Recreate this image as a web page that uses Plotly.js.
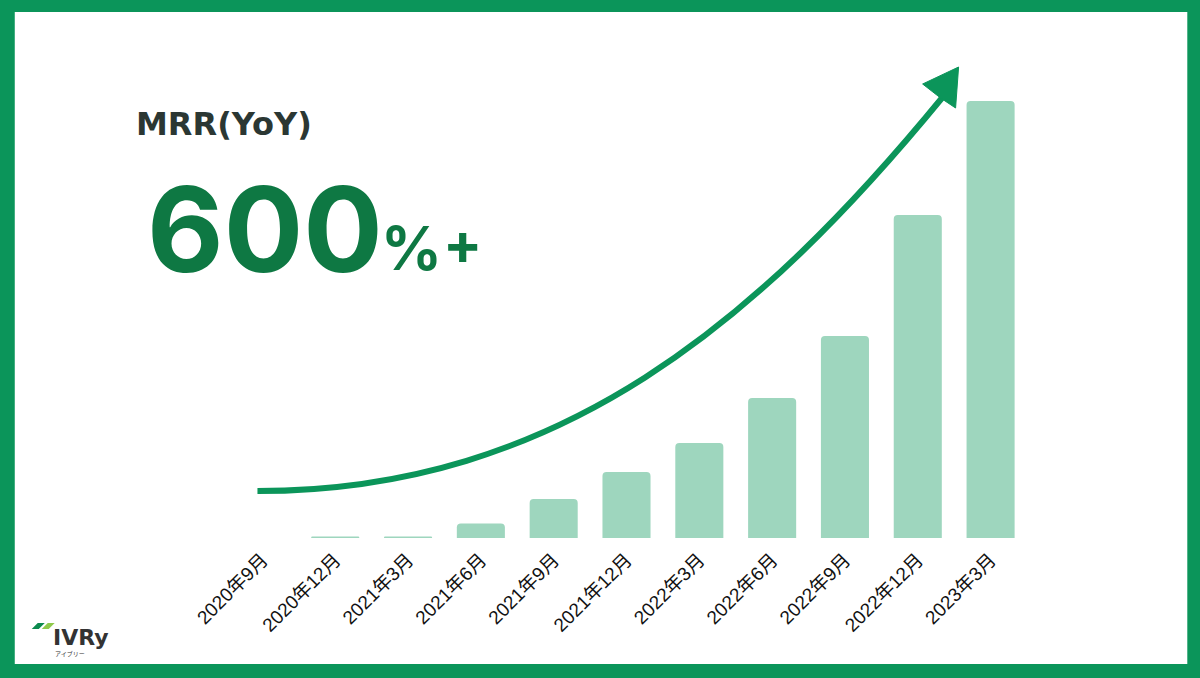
<!DOCTYPE html>
<html>
<head>
<meta charset="utf-8">
<script src="https://cdn.plot.ly/plotly-3.0.1.min.js"></script>
<style>html,body{margin:0;padding:0;background:#fff;}#chart{width:1200px;height:678px;}</style>
</head>
<body>
<div id="chart"></div>
<script>
// ---- data ----
const categories = ["2020年9月","2020年12月","2021年3月","2021年6月","2021年9月","2021年12月","2022年3月","2022年6月","2022年9月","2022年12月","2023年3月"];
const mrrValues = [0, 1.5, 1.5, 14.5, 39, 66, 95, 140, 202, 323, 437];
const headlineLabel = "MRR(YoY)";
const headlineValue = "600";

// ---- layout geometry (pixels) ----
const W = 1200, H = 678;
const plotL = 225.5, plotR = 1027.5, plotB = 538, plotT = 58;
const yMax = 480;
const px = x => (x - plotL) / (plotR - plotL);
const py = y => (plotB - y) / (plotB - plotT);

const green = "#0b955a";
const darkGreen = "#0e7843";

const shapes = [
  // white card inside green frame
  {type:"rect", xref:"paper", yref:"paper", layer:"below",
   x0:px(14), x1:px(1188), y0:py(664), y1:py(12),
   fillcolor:"#ffffff", line:{width:0}},
  // growth arrow curve
  {type:"path", xref:"paper", yref:"paper", layer:"above",
   path:`M ${px(257)},${py(491)} C ${px(560)},${py(491)} ${px(760)},${py(320)} ${px(944)},${py(96)}`,
   line:{color:green, width:6}},
  // arrow head
  {type:"path", xref:"paper", yref:"paper", layer:"above",
   path:`M ${px(959)},${py(67)} L ${px(923)},${py(84)} L ${px(941)},${py(98)} L ${px(956)},${py(108)} Z`,
   fillcolor:green, line:{color:green, width:1}},
  // logo slashes
  {type:"path", xref:"paper", yref:"paper", layer:"above",
   path:`M ${px(31)},${py(629)} L ${px(37)},${py(623)} L ${px(44)},${py(623)} L ${px(38)},${py(629)} Z`,
   fillcolor:"#0c8a4f", line:{width:0}},
  {type:"path", xref:"paper", yref:"paper", layer:"above",
   path:`M ${px(41)},${py(629)} L ${px(47)},${py(623)} L ${px(54)},${py(623)} L ${px(48)},${py(629)} Z`,
   fillcolor:"#8fc94a", line:{width:0}}
];

const annotations = [
  {xref:"paper", yref:"paper", x:px(133), y:py(124), xanchor:"left", yanchor:"middle",
   text:"<b>"+headlineLabel+"</b>", showarrow:false,
   font:{family:"'DejaVu Sans', sans-serif", size:32, color:"#2b3733"}},
  {xref:"paper", yref:"paper", x:px(144), y:py(229), xanchor:"left", yanchor:"middle",
   text:"<b>"+headlineValue+"</b>", showarrow:false,
   font:{family:"Inter, 'Noto Sans', sans-serif", size:118, color:darkGreen}},
  {xref:"paper", yref:"paper", x:px(379), y:py(248), xanchor:"left", yanchor:"middle",
   text:"<b>%</b>", showarrow:false,
   font:{family:"Inter, 'Noto Sans', sans-serif", size:60, color:darkGreen}},
  {xref:"paper", yref:"paper", x:px(441), y:py(243), xanchor:"left", yanchor:"middle",
   text:"<b>+</b>", showarrow:false,
   font:{family:"Inter, 'Noto Sans', sans-serif", size:58, color:darkGreen}},
  // logo text
  {xref:"paper", yref:"paper", x:px(50), y:py(637), xanchor:"left", yanchor:"middle",
   text:"<b>IVRy</b>", showarrow:false,
   font:{family:"'DejaVu Sans', sans-serif", size:22, color:"#333333"}},
  {xref:"paper", yref:"paper", x:px(52), y:py(653), xanchor:"left", yanchor:"middle",
   text:"アイブリー", showarrow:false,
   font:{family:"'Noto Sans CJK JP', sans-serif", size:6, color:"#333333"}}
];

const trace = {
  type:"bar", x:categories, y:mrrValues,
  marker:{color:"#9ed6be", cornerradius:4, line:{width:0}},
  hoverinfo:"skip"
};

const layout = {
  width:W, height:H,
  margin:{l:plotL, r:W-plotR, t:plotT, b:H-plotB, pad:0},
  paper_bgcolor:green, plot_bgcolor:"rgba(0,0,0,0)",
  showlegend:false, bargap:0.34,
  xaxis:{type:"category", range:[-0.5,10.5], showgrid:false, zeroline:false, showline:false,
         ticks:"", tickangle:-45, ticklabelstandoff:6,
         tickfont:{family:"'Liberation Sans', 'Noto Sans CJK JP', sans-serif", size:19, color:"#111111"}},
  yaxis:{range:[0,yMax], showgrid:false, zeroline:false, showline:false, showticklabels:false, ticks:""},
  shapes:shapes, annotations:annotations
};

Plotly.newPlot("chart", [trace], layout, {displayModeBar:false, staticPlot:true});
</script>
</body>
</html>
